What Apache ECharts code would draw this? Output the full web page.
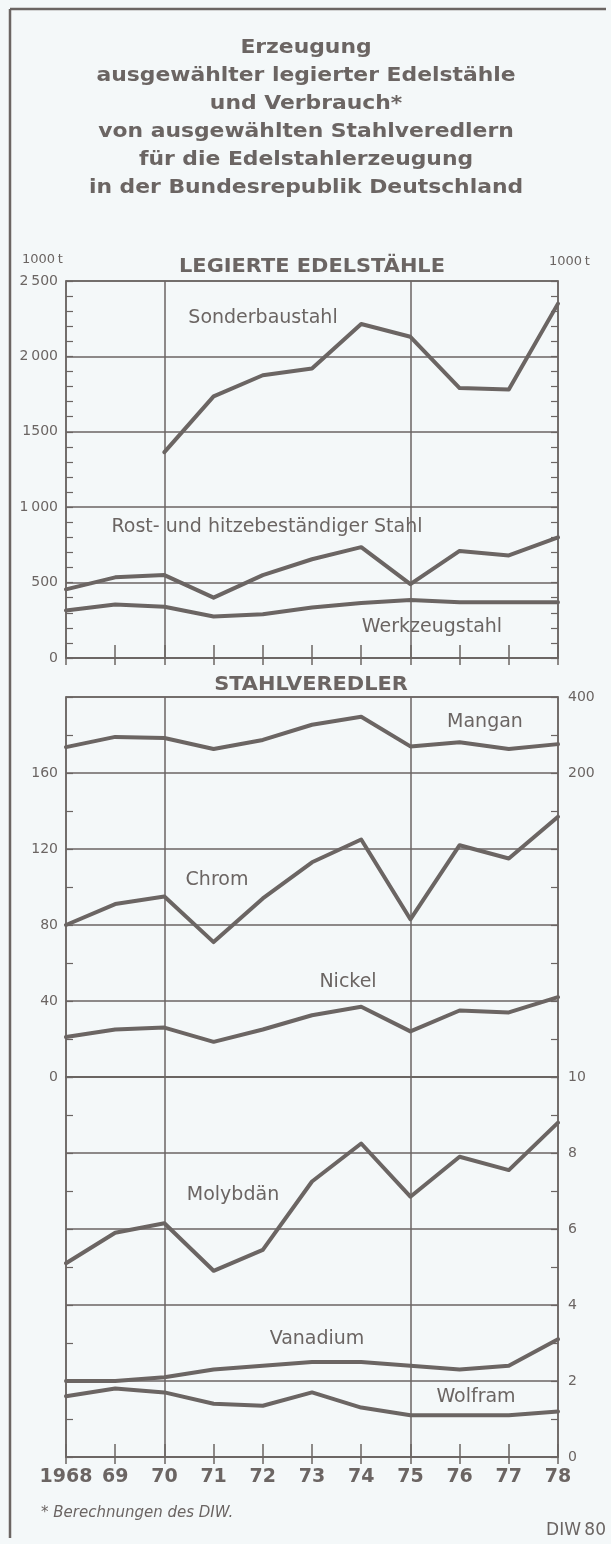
<!DOCTYPE html>
<html>
<head>
<meta charset="utf-8">
<title>Edelstähle und Stahlveredler</title>
<script src="https://cdn.jsdelivr.net/npm/echarts@6/dist/echarts.min.js"></script>
<style>
  html, body { margin: 0; padding: 0; background: #f4f8f9; }
  #chart { width: 611px; height: 1544px; }
</style>
</head>
<body>
<div id="chart"></div>
<script>
// years on the x axis
const years = ['1968', '69', '70', '71', '72', '73', '74', '75', '76', '77', '78'];

// legierte Edelstähle, 1000 t
const sonderbaustahl = [null, null, 1365, 1735, 1875, 1920, 2215, 2130, 1790, 1780, 2350];
const rostStahl = [455, 535, 550, 400, 550, 655, 735, 490, 710, 680, 800];
const werkzeugstahl = [315, 355, 340, 275, 290, 335, 365, 385, 370, 370, 370];

// Stahlveredler, 1000 t (Mangan on the right hand scale)
const mangan = [268, 295, 292, 263, 287, 327, 348, 270, 281, 263, 276];
const chrom = [80, 91, 95, 71, 94, 113, 125, 83, 122, 115, 137];
const nickel = [21, 25, 26, 18.5, 25, 32.5, 37, 24, 35, 34, 42];
const molybdaen = [5.1, 5.9, 6.15, 4.9, 5.45, 7.25, 8.25, 6.85, 7.9, 7.55, 8.8];
const vanadium = [2.0, 2.0, 2.1, 2.3, 2.4, 2.5, 2.5, 2.4, 2.3, 2.4, 3.1];
const wolfram = [1.6, 1.8, 1.7, 1.4, 1.35, 1.7, 1.3, 1.1, 1.1, 1.1, 1.2];

// tick labels
const edelTicks = [0, 500, 1000, 1500, 2000, 2500];
const edelTickLabels = ['0', '500', '1\u2009000', '1500', '2\u2009000', '2\u2009500'];
const veredlerTicks = [0, 40, 80, 120, 160];
const manganTicks = [200, 400];
const kleinTicks = [0, 2, 4, 6, 8, 10];

const titleLines = [
  'Erzeugung',
  'ausgewählter legierter Edelstähle',
  'und Verbrauch*',
  'von ausgewählten Stahlveredlern',
  'für die Edelstahlerzeugung',
  'in der Bundesrepublik Deutschland'
];

const ink = '#6b6563';
const bg = '#f4f8f9';
const sans = '"DejaVu Sans", sans-serif';

const chart = echarts.init(document.getElementById('chart'), null, { renderer: 'canvas' });

function xAxes(gridIndex, ticks, labels) {
  const base = {
    type: 'category',
    gridIndex: gridIndex,
    data: years,
    boundaryGap: false,
    position: 'bottom',
    axisLine: { show: true, lineStyle: { color: ink, width: 1.5 } },
    axisTick: { show: ticks, inside: true, length: 13, lineStyle: { color: ink, width: 1.5 } },
    axisLabel: labels ? {
      show: true, interval: 0, margin: 11, color: ink,
      fontFamily: sans, fontWeight: 'bold', fontSize: 19
    } : { show: false },
    splitLine: {
      show: true,
      interval: (i) => i === 2 || i === 7,
      lineStyle: { color: ink, width: 1.5 }
    }
  };
  const out = [base];
  if (ticks) {
    out.push({
      type: 'category', gridIndex: gridIndex, data: years, boundaryGap: false,
      position: 'bottom', offset: 0,
      axisLine: { show: false },
      axisTick: { show: true, inside: false, length: 7, lineStyle: { color: ink, width: 1.5 } },
      axisLabel: { show: false },
      splitLine: { show: false }
    });
  }
  return out;
}

function yAxis(gridIndex, pos, min, max, interval, minorSplit, labelFn, split) {
  return {
    type: 'value',
    gridIndex: gridIndex,
    position: pos,
    min: min, max: max, interval: interval,
    axisLine: { show: true, lineStyle: { color: ink, width: 1.5 } },
    axisTick: { show: true, inside: true, length: 7, lineStyle: { color: ink, width: 1.2 } },
    minorTick: { show: true, splitNumber: minorSplit, length: 7, lineStyle: { color: ink, width: 1.2 } },
    axisLabel: labelFn ? {
      show: true, formatter: labelFn, margin: pos === 'left' ? 8 : 10,
      color: ink, fontFamily: sans, fontSize: 14
    } : { show: false },
    splitLine: { show: split, lineStyle: { color: ink, width: 1.5 } }
  };
}

function line(name, data, xi, yi) {
  return {
    name: name, type: 'line', data: data,
    xAxisIndex: xi, yAxisIndex: yi,
    showSymbol: false, symbol: 'none', connectNulls: false,
    lineStyle: { color: ink, width: 4, join: 'round', cap: 'round' },
    silent: true, z: 5
  };
}

function txt(text, x, y, opts) {
  return Object.assign({
    type: 'text', x: x, y: y, silent: true,
    style: Object.assign({
      text: text, fill: ink, fontFamily: sans, fontSize: 19,
      align: 'center', verticalAlign: 'middle'
    }, opts && opts.style)
  }, opts && opts.el);
}

const gridBox = { left: 66, right: 53, show: true, borderColor: ink, borderWidth: 1.5, backgroundColor: 'transparent' };

const xs = [].concat(xAxes(0, true, false), xAxes(1, false, false), xAxes(2, true, true));
// indexes: 0,1 -> grid0 ; 2 -> grid1 ; 3,4 -> grid2

const seriesLabels = [
  ['Sonderbaustahl', 263, 318],
  ['Rost- und hitzebeständiger Stahl', 267, 527],
  ['Werkzeugstahl', 432, 627],
  ['Mangan', 485, 722],
  ['Chrom', 217, 880],
  ['Nickel', 348, 982],
  ['Molybdän', 233, 1195],
  ['Vanadium', 317, 1339],
  ['Wolfram', 476, 1397]
];

chart.setOption({
  backgroundColor: bg,
  animation: false,
  grid: [
    Object.assign({ top: 281, height: 377 }, gridBox),
    Object.assign({ top: 697, height: 380 }, gridBox),
    Object.assign({ top: 1077, height: 380 }, gridBox)
  ],
  xAxis: xs,
  yAxis: [
    yAxis(0, 'left', 0, 2500, 500, 5, (v) => edelTickLabels[edelTicks.indexOf(v)], true),
    yAxis(0, 'right', 0, 2500, 500, 5, null, false),
    yAxis(1, 'left', 0, 200, 40, 2, (v) => veredlerTicks.indexOf(v) >= 0 ? String(v) : '', true),
    yAxis(1, 'right', -600, 400, 200, 2, (v) => manganTicks.indexOf(v) >= 0 ? String(v) : '', false),
    yAxis(2, 'left', 0, 10, 2, 2, null, true),
    yAxis(2, 'right', 0, 10, 2, 2, (v) => kleinTicks.indexOf(v) >= 0 ? String(v) : '', false)
  ],
  series: [
    line('Sonderbaustahl', sonderbaustahl, 0, 0),
    line('Rost- und hitzebeständiger Stahl', rostStahl, 0, 0),
    line('Werkzeugstahl', werkzeugstahl, 0, 0),
    line('Mangan', mangan, 2, 3),
    line('Chrom', chrom, 2, 2),
    line('Nickel', nickel, 2, 2),
    line('Molybdän', molybdaen, 3, 4),
    line('Vanadium', vanadium, 3, 4),
    line('Wolfram', wolfram, 3, 4)
  ],
  graphic: [
    { type: 'line', silent: true, shape: { x1: 10, y1: 9, x2: 606, y2: 9 }, style: { stroke: ink, lineWidth: 2.5 } },
    { type: 'line', silent: true, shape: { x1: 10, y1: 9, x2: 10, y2: 1538 }, style: { stroke: ink, lineWidth: 2.5 } }
  ].concat(
    titleLines.map((t, i) => txt(t, 306, 48 + i * 28, {
      style: { fontWeight: 'bold', fontSize: 19 }, el: { scaleX: 1.15 }
    })),
    [
      txt('LEGIERTE EDELSTÄHLE', 312, 267, { style: { fontWeight: 'bold', fontSize: 19 }, el: { scaleX: 1.1 } }),
      txt('STAHLVEREDLER', 311, 685, { style: { fontWeight: 'bold', fontSize: 19 }, el: { scaleX: 1.1 } }),
      txt('1000\u2009t', 22, 260, { style: { fontSize: 13, align: 'left' } }),
      txt('1000\u2009t', 549, 262, { style: { fontSize: 13, align: 'left' } }),
      txt('* Berechnungen des DIW.', 41, 1513, { style: { fontSize: 15, fontStyle: 'italic', align: 'left' } }),
      txt('DIW\u200980', 606, 1531, { style: { fontSize: 17, align: 'right' } })
    ],
    seriesLabels.map((s) => txt(s[0], s[1], s[2], { style: { fontSize: 19 } }))
  )
});
</script>
</body>
</html>
